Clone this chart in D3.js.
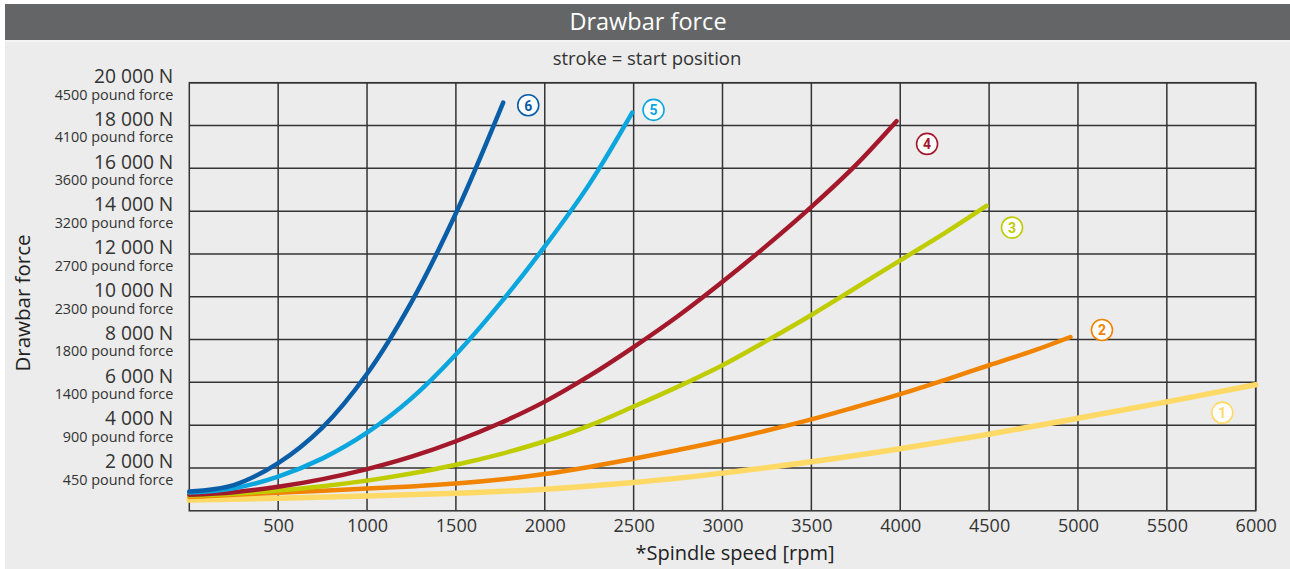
<!DOCTYPE html>
<html><head><meta charset="utf-8">
<script src="https://cdn.jsdelivr.net/npm/d3@7"></script>
<style>
html,body{margin:0;padding:0;background:#fff;}
svg{display:block;font-family:"Open Sans","Noto Sans",sans-serif;}
</style></head>
<body><svg id="c" width="1290" height="569"></svg>
<script>
// ---- data ----
const title = "Drawbar force";
const subtitle = "stroke = start position";
const xTitle = "*Spindle speed [rpm]";
const yTitle = "Drawbar force";
const xTicks = [500,1000,1500,2000,2500,3000,3500,4000,4500,5000,5500,6000];
const yTicksN = [2000,4000,6000,8000,10000,12000,14000,16000,18000,20000];
const yTickN = ["2 000 N","4 000 N","6 000 N","8 000 N","10 000 N","12 000 N","14 000 N","16 000 N","18 000 N","20 000 N"];
const yTickLbf = ["450 pound force","900 pound force","1400 pound force","1800 pound force","2300 pound force","2700 pound force","3200 pound force","3600 pound force","4100 pound force","4500 pound force"];

const seriesNames = ["1","2","3","4","5","6"];
const seriesColors = ["#ffd966","#f08300","#bfcc00","#a3182a","#0ba6de","#0a5ea8"];
const rpm1 = [0,500,1000,1500,2000,2500,3000,3500,4000,4500,5000,5500,6000];
const force1 = [500,590,690,820,1010,1320,1760,2290,2900,3580,4320,5090,5890];
const rpm2 = [0,250,500,750,1000,1250,1500,1750,2000,2250,2500,2750,3000,3250,3500,3750,4000,4250,4500,4750,4958];
const force2 = [650,745,845,940,1040,1140,1270,1460,1720,2050,2430,2840,3270,3750,4270,4850,5450,6110,6800,7480,8120];
const rpm3 = [0,250,500,750,1000,1250,1500,1750,2000,2250,2500,2750,3000,3250,3500,3750,4000,4250,4485];
const force3 = [700,800,950,1150,1410,1740,2150,2650,3250,3980,4870,5800,6800,7950,9150,10420,11700,12970,14240];
const rpm4 = [0,250,500,750,1000,1250,1500,1750,2000,2250,2500,2750,3000,3250,3500,3750,3979];
const force4 = [750,870,1120,1480,1950,2530,3250,4100,5100,6300,7650,9100,10700,12400,14200,16150,18200];
const rpm5 = [0,250,500,750,1000,1250,1500,1750,2000,2250,2492];
const force5 = [850,1050,1600,2450,3650,5250,7300,9700,12350,15250,18600];
const rpm6 = [0,250,500,750,1000,1250,1500,1766];
const force6 = [900,1200,2230,3900,6400,9750,13900,19070];
const labelRpm = [5812,5135,4629,4151,2612,1907];
const labelForce = [4585,8450,13230,17140,18730,18950];

// ---- layout ----
const svg = d3.select("#c");
const W = 1290, H = 569;
const m = {left:189.3, right:1255.7, top:82.7, bottom:510.8};
const x = d3.scaleLinear().domain([0,6000]).range([m.left,m.right]);
const y = d3.scaleLinear().domain([0,20000]).range([m.bottom,m.top]);

svg.append("rect").attr("x",5).attr("y",4).attr("width",W-5).attr("height",H-4).attr("fill","#ebeceb");
svg.append("rect").attr("x",5).attr("y",4).attr("width",W-5).attr("height",36).attr("fill","#646566");
svg.append("line").attr("x1",5).attr("x2",W).attr("y1",41).attr("y2",41).attr("stroke","#f6f6f6").attr("stroke-width",1.5);
svg.append("text").attr("x",648).attr("y",21).attr("text-anchor","middle").attr("dominant-baseline","central")
  .attr("fill","#fff").attr("font-size",23.5).text(title);
svg.append("text").attr("x",647).attr("y",57).attr("text-anchor","middle").attr("dominant-baseline","central")
  .attr("fill","#333").attr("font-size",18.5).text(subtitle);

// grid
const grid = svg.append("g").attr("stroke","#333").attr("stroke-width",1.5);
grid.selectAll("line.v").data(xTicks).join("line")
  .attr("x1",d=>x(d)).attr("x2",d=>x(d)).attr("y1",y(0)).attr("y2",y(20000));
grid.selectAll("line.h").data(yTicksN).join("line")
  .attr("x1",x(0)).attr("x2",x(6000)).attr("y1",d=>y(d)).attr("y2",d=>y(d));
grid.append("rect").attr("x",x(0)).attr("y",y(20000)).attr("width",x(6000)-x(0)).attr("height",y(0)-y(20000)).attr("fill","none");

// axes (labels only, via d3 axis)
const xAxis = svg.append("g").attr("transform",`translate(0,${y(0)})`)
  .call(d3.axisBottom(x).tickValues(xTicks).tickSize(0).tickPadding(8).tickFormat(d3.format("d")));
xAxis.select(".domain").remove();
xAxis.selectAll("text").attr("font-size",18).attr("fill","#333").attr("font-family","Open Sans");

const yAxis = svg.append("g").attr("transform",`translate(${x(0)-16},0)`)
  .call(d3.axisLeft(y).tickValues(yTicksN).tickSize(0).tickPadding(0));
yAxis.select(".domain").remove();
yAxis.selectAll(".tick text").each(function(d){
  const i = yTicksN.indexOf(d);
  const t = d3.select(this).text(null).attr("dy",null).attr("x",0).attr("y",0)
    .attr("fill","#333").attr("font-family","Open Sans").attr("text-anchor","end");
  t.append("tspan").attr("x",0).attr("y",-0.3).attr("font-size",19.2).text(yTickN[i]);
  t.append("tspan").attr("x",0).attr("y",16.4).attr("font-size",14.4).text(yTickLbf[i]);
});

svg.append("text").attr("x",735).attr("y",552).attr("text-anchor","middle").attr("dominant-baseline","central")
  .attr("fill","#222").attr("font-size",20).text(xTitle);
svg.append("text").attr("transform","translate(22,303) rotate(-90)").attr("text-anchor","middle").attr("dominant-baseline","central")
  .attr("fill","#222").attr("font-size",20.5).text(yTitle);

// curves
const rpms = [rpm1,rpm2,rpm3,rpm4,rpm5,rpm6];
const forces = [force1,force2,force3,force4,force5,force6];
const line = d3.line().x(d=>x(d[0])).y(d=>y(d[1])).curve(d3.curveCatmullRom.alpha(0.5));
rpms.forEach((r,i)=>{
  const pts = r.map((v,j)=>[v,forces[i][j]]);
  svg.append("path").attr("d",line(pts)).attr("fill","none").attr("stroke",seriesColors[i])
    .attr("stroke-width", i===0?5.5:4.5).attr("stroke-linecap","round");
});

// labels
seriesNames.forEach((n,i)=>{
  const g = svg.append("g").attr("transform",`translate(${x(labelRpm[i])},${y(labelForce[i])})`);
  g.append("circle").attr("r",10.5).attr("fill","#fff").attr("stroke",seriesColors[i]).attr("stroke-width",1.6);
  g.append("text").attr("text-anchor","middle").attr("dominant-baseline","central").attr("y",0.5)
    .attr("font-size",14).attr("font-weight","bold").attr("fill",seriesColors[i]).attr("font-family","Roboto").text(n);
});
</script></body></html>
